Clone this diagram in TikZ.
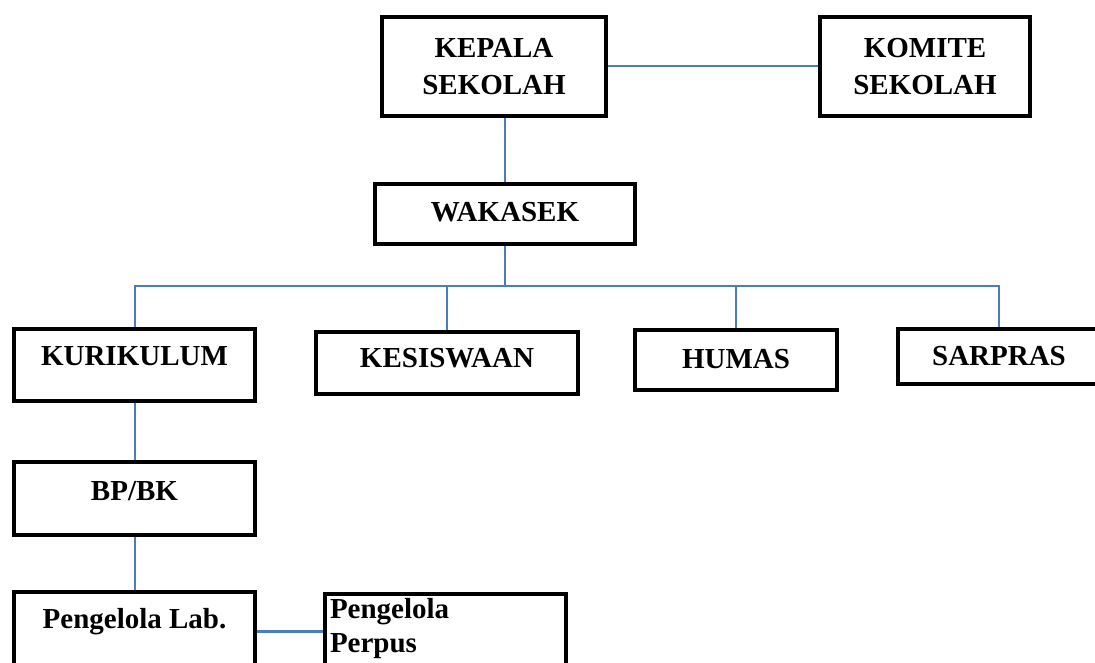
\documentclass[tikz,border=0pt]{standalone}
\usepackage{fontspec}
\setmainfont{Liberation Serif}
\usetikzlibrary{positioning,calc}
\definecolor{garisbiru}{RGB}{74,126,187}
\tikzset{
  kotak/.style={draw, line width=4pt, rectangle, inner sep=0pt, align=center,
    font=\bfseries\fontsize{29}{37}\selectfont},
  garis/.style={draw=garisbiru, line width=2pt},
}

\begin{document}
\begin{tikzpicture}[x=1pt,y=-1pt]
\useasboundingbox (0,0) rectangle (1095,663);
\clip (0,0) rectangle (1095,663);
%---------------- pimpinan
\node[kotak, minimum width=224pt, minimum height=99pt] (kepala) at (494,66.5) {KEPALA\\SEKOLAH};
\node[kotak, minimum width=210pt, minimum height=99pt] (komite) at (925,66.5) {KOMITE\\SEKOLAH};
\node[kotak, minimum width=260pt, text height=38pt, text depth=22pt] (wakasek) at (505,214) {WAKASEK};

%---------------- bidang
\node[kotak, minimum width=241pt, text height=36pt, text depth=36pt] (kurikulum) at (134.5,365) {KURIKULUM};
\node[kotak, minimum width=262pt, text height=35pt, text depth=27pt] (kesiswaan) at (447,363) {KESISWAAN};
\node[kotak, minimum width=202pt, text height=38pt, text depth=22pt] (humas) at (736,360) {HUMAS};
\node[kotak, minimum width=202pt, text height=36pt, text depth=19pt] (sarpras) at (999,356.5) {SARPRAS};

%---------------- di bawah kurikulum
\node[kotak, minimum width=241pt, text height=38pt, text depth=35pt] (bpbk) at (134.5,498.5) {BP/BK};
\node[kotak, minimum width=241pt, text height=36pt, text depth=72pt] (lab) at (134.5,646) {Pengelola Lab.};
\node[kotak, inner xsep=5pt, text width=231pt, align=left, text height=24pt, text depth=82pt,
  font=\bfseries\fontsize{29}{34}\selectfont] (perpus) at (445.5,647) {Pengelola\\Perpus};

%---------------- garis
\draw[garis] (kepala.east) -- (komite.west);
\draw[garis] (wakasek.north) -- (wakasek.north |- kepala.south);
\draw[garis] (wakasek.south) -- ++(0,40) coordinate (cabang);
\draw[garis] (kurikulum.north) |- (cabang) -| (sarpras.north);
\foreach \n in {kesiswaan,humas}
  \draw[garis] (\n.north) -- (\n.north |- cabang);
\draw[garis] (kurikulum.south) -- (bpbk.north);
\draw[garis] (bpbk.south) -- (lab.north);
\draw[garis, line width=3pt] (lab.north east) ++(0,41) coordinate (labkanan) -- (labkanan -| perpus.west);
\end{tikzpicture}
\end{document}
